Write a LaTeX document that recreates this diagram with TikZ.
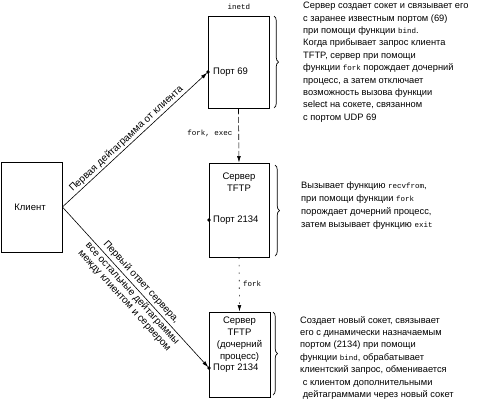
\documentclass[tikz,border=0pt]{standalone}
\usepackage{fontspec}
\setmainfont{Liberation Sans}
\setmonofont{Liberation Mono}
\usetikzlibrary{arrows.meta,decorations.pathreplacing}
\tikzset{
  box/.style={draw, line width=0.8pt, inner sep=0pt},
  txt/.style={inner sep=0pt, font=\fontsize{9.5}{11}\selectfont},
  blk/.style={inner sep=0pt, anchor=north west, align=left},
  arr/.style={line width=0.6pt, -{Latex[length=6.5pt,width=3.8pt]}},
  brc/.style={decorate, decoration={brace, amplitude=4.5pt}, line width=0.7pt},
  lbl/.style={font=\fontsize{10}{10.6}\selectfont, align=center},
  fn/.style={font=\fontsize{7.5}{9}\ttfamily}
}
\newcommand{\fnc}[1]{{\fontsize{7.5}{9}\ttfamily #1}}
\begin{document}
\begin{tikzpicture}[x=1pt,y=-1pt]
\useasboundingbox (0,0) rectangle (483,400);
% boxes
\node[box, minimum width=61pt, minimum height=90pt] (client) at (31.5,207) {};
\node[txt] (clientt) at (30,207) {Клиент};
\node[box, minimum width=61pt, minimum height=92pt] (inetd) at (238.5,62) {};
\node[box, minimum width=60pt, minimum height=94pt] (tftp) at (239,210) {};
\node[box, minimum width=61pt, minimum height=85pt] (child) at (239.5,354.5) {};
% labels
\node[inner sep=0pt, fn] (inetdl) at (239,7) {inetd};
\node[txt, anchor=west] (port1) at (213,72) {Порт 69};
\node[txt, align=center, font=\fontsize{9.5}{12}\selectfont] (srv2) at (239,182) {Сервер\\TFTP};
\node[txt, anchor=west] (port2) at (213,220) {Порт 2134};
\node[txt, align=center, font=\fontsize{9.5}{11.8}\selectfont] (srv3) at (239.5,339) {Сервер\\TFTP\\(дочерний\\процесс)};
\node[txt, anchor=west] (port3) at (213,368) {Порт 2134};
% port points
\coordinate (p1) at (208,72);
\coordinate (p2) at (209,220);
\coordinate (p3) at (209,368);
\fill (p1) circle (1.8pt);
\fill (p2) circle (1.8pt);
\fill (p3) circle (1.8pt);
% client arrows
\draw[arr, shorten >=1pt] (client.east) -- (p1)
  node[pos=0.47, sloped, above, lbl, inner sep=1.5pt] {Первая дейтаграмма от клиента};
\draw[arr, shorten >=1pt] (client.east) -- (p3)
  node[pos=0.5, sloped, above, lbl, inner sep=2.5pt] {Первый ответ сервера,}
  node[pos=0.51, sloped, below, lbl, inner sep=1.5pt] {все остальные дейтаграммы\\между клиентом и сервером};
% fork arrows
\draw[arr, dash pattern=on 6pt off 2.5pt] (inetd.south) -- (tftp.north);
\node[fn, inner sep=0pt] (forkexec) at (210,133) {fork, exec};
\draw[arr, dash pattern=on 1.5pt off 6pt] (tftp.south) -- (child.north);
\node[fn, inner sep=0pt, anchor=west] (fork) at (243,284) {fork};
% braces
\draw[brc] (274,16) -- (274,108);
\draw[brc] (275,165) -- (275,256);
\draw[brc] (273,312) -- (273,395);
% text blocks
\node[blk, font=\fontsize{9.3}{12.4}\selectfont] (t1) at (303,2) {Сервер создает сокет и связывает его\\
с заранее известным портом (69)\\
при помощи функции \fnc{bind}.\\
Когда прибывает запрос клиента\\
TFTP, сервер при помощи\\
функции \fnc{fork} порождает дочерний\\
процесс, а затем отключает\\
возможность вызова функции\\
select на сокете, связанном\\
с портом UDP 69};
\node[blk, font=\fontsize{9.3}{13}\selectfont] (t2) at (301,182) {Вызывает функцию \fnc{recvfrom},\\
при помощи функции \fnc{fork}\\
порождает дочерний процесс,\\
затем вызывает функцию \fnc{exit}};
\node[blk, font=\fontsize{9.3}{12.4}\selectfont] (t3) at (300,316) {Создает новый сокет, связывает\\
его с динамически назначаемым\\
портом (2134) при помощи\\
функции \fnc{bind}, обрабатывает\\
клиентский запрос, обменивается\\
\ с клиентом дополнительными\\
\ дейтаграммами через новый сокет};
\end{tikzpicture}
\end{document}
